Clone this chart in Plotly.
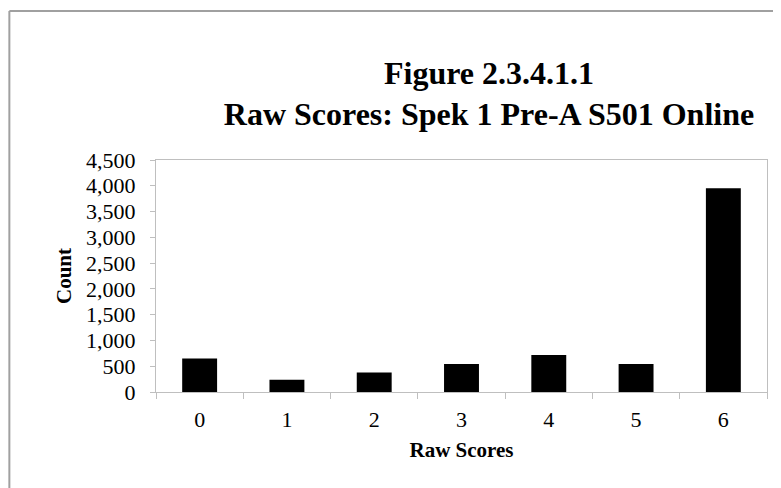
import plotly.graph_objects as go

scores = ["0", "1", "2", "3", "4", "5", "6"]
counts = [650, 240, 380, 545, 720, 545, 3950]
y_ticks = list(range(0, 4501, 500))

_FONT = "Liberation Serif, Times New Roman, serif"
_AXIS = "#bfbfbf"

fig = go.Figure(
    go.Bar(
        x=scores,
        y=counts,
        marker={"color": "black", "line": {"width": 0}},
        showlegend=False,
    )
)

fig.update_layout(
    width=781,
    height=488,
    margin={"l": 148, "r": 22, "t": 152, "b": 104},
    paper_bgcolor="white",
    plot_bgcolor="white",
    bargap=0.6,
    font={"family": _FONT, "color": "black"},
    title={
        "text": "<b>Figure 2.3.4.1.1</b><br><b>Raw Scores: Spek 1 Pre-A S501 Online</b>",
        "font": {"size": 32, "family": _FONT, "color": "black"},
        "x": 0.545,
        "xref": "paper",
        "xanchor": "center",
        "y": 0.845,
        "yanchor": "middle",
    },
    xaxis={
        "type": "category",
        "showline": True,
        "linecolor": _AXIS,
        "linewidth": 1,
        "mirror": True,
        "ticks": "outside",
        "tickson": "boundaries",
        "ticklen": 6,
        "tickcolor": _AXIS,
        "tickfont": {"size": 22},
        "ticklabelstandoff": 8,
        "showgrid": False,
        "title": {"text": "<b>Raw Scores</b>", "font": {"size": 21}, "standoff": 10},
    },
    yaxis={
        "range": [0, 4500],
        "tickvals": y_ticks,
        "tickformat": ",",
        "showline": True,
        "linecolor": _AXIS,
        "linewidth": 1,
        "mirror": True,
        "ticks": "outside",
        "ticklen": 5,
        "tickcolor": _AXIS,
        "tickfont": {"size": 22},
        "ticklabelstandoff": 10,
        "showgrid": False,
        "zeroline": False,
        "title": {"text": "<b>Count</b>", "font": {"size": 21}, "standoff": 8},
    },
    shapes=[
        # outer chart frame (only top and left edges are visible)
        {"type": "line", "xref": "paper", "yref": "paper",
         "x0": -0.24, "x1": -0.24, "y0": -0.6, "y1": 1.642,
         "line": {"color": "#a0a0a0", "width": 2}},
        {"type": "line", "xref": "paper", "yref": "paper",
         "x0": -0.24, "x1": 1.2, "y0": 1.642, "y1": 1.642,
         "line": {"color": "#a0a0a0", "width": 2}},
    ],
)

fig.write_html("out.html")
